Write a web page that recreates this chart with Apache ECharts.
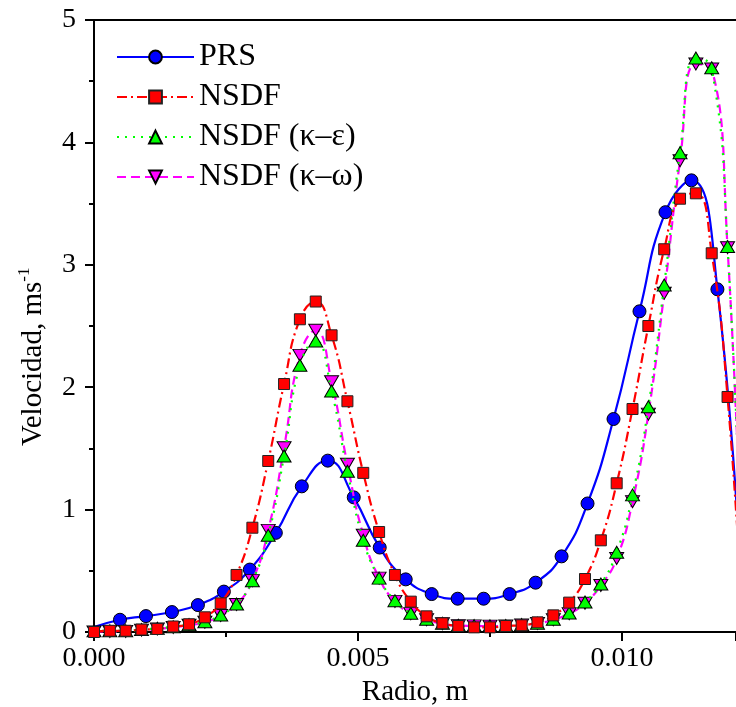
<!DOCTYPE html>
<html>
<head>
<meta charset="utf-8">
<script src="https://cdn.jsdelivr.net/npm/echarts@6/dist/echarts.min.js"></script>
<style>
html,body{margin:0;padding:0;background:#fff;}
#chart{width:736px;height:707px;}
</style>
</head>
<body>
<div id="chart"></div>
<script>
// ---- Data ----
const prsRadius = [0, 0.000492, 0.000984, 0.001476, 0.001968, 0.00246, 0.002952, 0.003444, 0.003936, 0.004428,
  0.00492, 0.005412, 0.005904, 0.006396, 0.006888, 0.00738, 0.007872, 0.008364, 0.008856, 0.009348,
  0.00984, 0.010332, 0.010824, 0.011316, 0.011808, 0.0123];
const prsVelocity = [0.04, 0.10, 0.13, 0.163, 0.22, 0.33, 0.51, 0.81, 1.19, 1.40,
  1.10, 0.69, 0.43, 0.31, 0.272, 0.272, 0.31, 0.403, 0.618, 1.05,
  1.74, 2.62, 3.43, 3.69, 2.80, 0.02];

const nsdfRadius = [0, 0.0003, 0.0006, 0.0009, 0.0012, 0.0015, 0.0018, 0.0021, 0.0024, 0.0027,
  0.0030, 0.0033, 0.0036, 0.0039, 0.0042, 0.0045, 0.0048, 0.0051, 0.0054, 0.0057,
  0.0060, 0.0063, 0.0066, 0.0069, 0.0072, 0.0075, 0.0078, 0.0081, 0.0084, 0.0087,
  0.0090, 0.0093, 0.0096, 0.0099, 0.0102, 0.0105, 0.0108, 0.0111, 0.0114, 0.0117,
  0.0120, 0.0123];
const nsdfVelocity = [0.00, 0.01, 0.01, 0.02, 0.025, 0.045, 0.063, 0.12, 0.234, 0.466,
  0.852, 1.397, 2.026, 2.555, 2.70, 2.424, 1.885, 1.30, 0.817, 0.466,
  0.248, 0.128, 0.071, 0.049, 0.038, 0.038, 0.049, 0.055, 0.079, 0.136,
  0.24, 0.433, 0.749, 1.215, 1.822, 2.50, 3.127, 3.54, 3.584, 3.094,
  1.92, 0.0];
const nsdfKeVelocity = [0.01, 0.01, 0.01, 0.02, 0.03, 0.043, 0.06, 0.084, 0.139, 0.229,
  0.419, 0.79, 1.438, 2.18, 2.378, 1.969, 1.313, 0.75, 0.44, 0.256,
  0.153, 0.104, 0.071, 0.055, 0.052, 0.05, 0.052, 0.06, 0.072, 0.104,
  0.155, 0.245, 0.392, 0.651, 1.12, 1.84, 2.835, 3.916, 4.69, 4.61,
  3.15, 0.2];
const nsdfKwVelocity = [0.0, 0.005, 0.005, 0.015, 0.025, 0.038, 0.055, 0.08, 0.135, 0.225,
  0.42, 0.83, 1.506, 2.26, 2.465, 2.045, 1.37, 0.79, 0.44, 0.25,
  0.15, 0.10, 0.068, 0.052, 0.05, 0.048, 0.05, 0.057, 0.07, 0.10,
  0.15, 0.235, 0.38, 0.60, 1.065, 1.78, 2.767, 3.85, 4.64, 4.60,
  3.14, 0.2];

const seriesNames = ['PRS', 'NSDF', 'NSDF (\u03ba\u2013\u03b5)', 'NSDF (\u03ba\u2013\u03c9)'];
const xTickValues = [0, 0.005, 0.010];
const yTickValues = [0, 1, 2, 3, 4, 5];

// ---- Chart ----
const FONT = '"Liberation Serif", "Times New Roman", serif';
const pair = (xs, ys) => xs.map((x, i) => [x, ys[i]]);

const prsData = pair(prsRadius, prsVelocity).map((p, i) => i === 0 ? { value: p, symbol: 'none' } : p);

const chart = echarts.init(document.getElementById('chart'), null, { renderer: 'canvas' });

const axisLineStyle = { color: '#000', width: 2 };

chart.setOption({
  animation: false,
  backgroundColor: '#fff',
  textStyle: { fontFamily: FONT },
  grid: { left: 94, right: 0, top: 20, bottom: 75, containLabel: false, outerBoundsMode: 'none' },
  legend: {
    data: seriesNames,
    orient: 'vertical',
    left: 111,
    top: 36,
    padding: 5,
    itemWidth: 77,
    itemHeight: 16,
    itemGap: 8,
    textStyle: { fontFamily: FONT, fontSize: 32, color: '#000', lineHeight: 32 },
    inactiveColor: '#ccc'
  },
  xAxis: [{
    type: 'value',
    min: 0,
    max: 0.01216,
    interval: 0.005,
    name: 'Radio, m',
    nameLocation: 'middle',
    nameGap: 45,
    nameTextStyle: { fontFamily: FONT, fontSize: 29, color: '#000' },
    axisLine: { show: true, onZero: false, lineStyle: axisLineStyle },
    axisTick: { show: true, inside: false, length: 9, lineStyle: { color: '#000', width: 2 } },
    minorTick: { show: true, splitNumber: 2, length: 5, lineStyle: { color: '#000', width: 2 } },
    splitLine: { show: false },
    axisLabel: {
      margin: 13, fontFamily: FONT, fontSize: 28, color: '#000',
      showMaxLabel: false,
      formatter: v => xTickValues.some(t => Math.abs(t - v) < 1e-9) ? v.toFixed(3) : ''
    }
  }, {
    type: 'value',
    position: 'top',
    min: 0,
    max: 0.01216,
    interval: 0.005,
    axisLine: { show: true, onZero: false, lineStyle: axisLineStyle },
    axisTick: { show: false },
    axisLabel: { show: false },
    splitLine: { show: false }
  }],
  yAxis: {
    type: 'value',
    min: 0,
    max: 5,
    interval: 1,
    axisLine: { show: true, onZero: false, lineStyle: axisLineStyle },
    axisTick: { show: true, inside: false, length: 9, lineStyle: { color: '#000', width: 2 } },
    minorTick: { show: true, splitNumber: 2, length: 5, lineStyle: { color: '#000', width: 2 } },
    splitLine: { show: false },
    axisLabel: {
      margin: 18, fontFamily: FONT, fontSize: 28, color: '#000',
      formatter: v => yTickValues.indexOf(v) >= 0 ? String(v) : ''
    }
  },
  graphic: [{
    type: 'text',
    x: 32,
    y: 446,
    rotation: Math.PI / 2,
    style: {
      text: '{a|Velocidad, ms}{b|-1}',
      align: 'left',
      verticalAlign: 'middle',
      fill: '#000',
      rich: {
        a: { fontFamily: FONT, fontSize: 29, lineHeight: 32, verticalAlign: 'bottom' },
        b: { fontFamily: FONT, fontSize: 17, lineHeight: 32, verticalAlign: 'top' }
      }
    }
  }],
  series: [{
    name: seriesNames[0],
    type: 'line',
    data: prsData,
    smooth: 0.5,
    symbol: 'circle',
    symbolSize: 13,
    showAllSymbol: true,
    lineStyle: { color: '#0000ff', width: 2.2 },
    itemStyle: { color: '#0000ff', borderColor: '#000', borderWidth: 1 },
    z: 2
  }, {
    name: seriesNames[3],
    type: 'line',
    data: pair(nsdfRadius, nsdfKwVelocity),
    smooth: 0.5,
    symbol: 'triangle',
    symbolRotate: 180,
    symbolSize: [14, 12],
    showAllSymbol: true,
    lineStyle: { color: '#ff00ff', width: 2.2, type: [9, 5] },
    itemStyle: { color: '#ff00ff', borderColor: '#000', borderWidth: 1 },
    z: 3
  }, {
    name: seriesNames[2],
    type: 'line',
    data: pair(nsdfRadius, nsdfKeVelocity),
    smooth: 0.5,
    symbol: 'triangle',
    symbolSize: [14, 12],
    showAllSymbol: true,
    lineStyle: { color: '#00ff00', width: 2.2, type: [2, 6] },
    itemStyle: { color: '#00ff00', borderColor: '#000', borderWidth: 1 },
    z: 4
  }, {
    name: seriesNames[1],
    type: 'line',
    data: pair(nsdfRadius, nsdfVelocity),
    smooth: 0.5,
    symbol: 'rect',
    symbolSize: 11,
    showAllSymbol: true,
    lineStyle: { color: '#ff0000', width: 2.2, type: [10, 4, 2, 4] },
    itemStyle: { color: '#ff0000', borderColor: '#222', borderWidth: 1 },
    z: 5
  }]
});
</script>
</body>
</html>
